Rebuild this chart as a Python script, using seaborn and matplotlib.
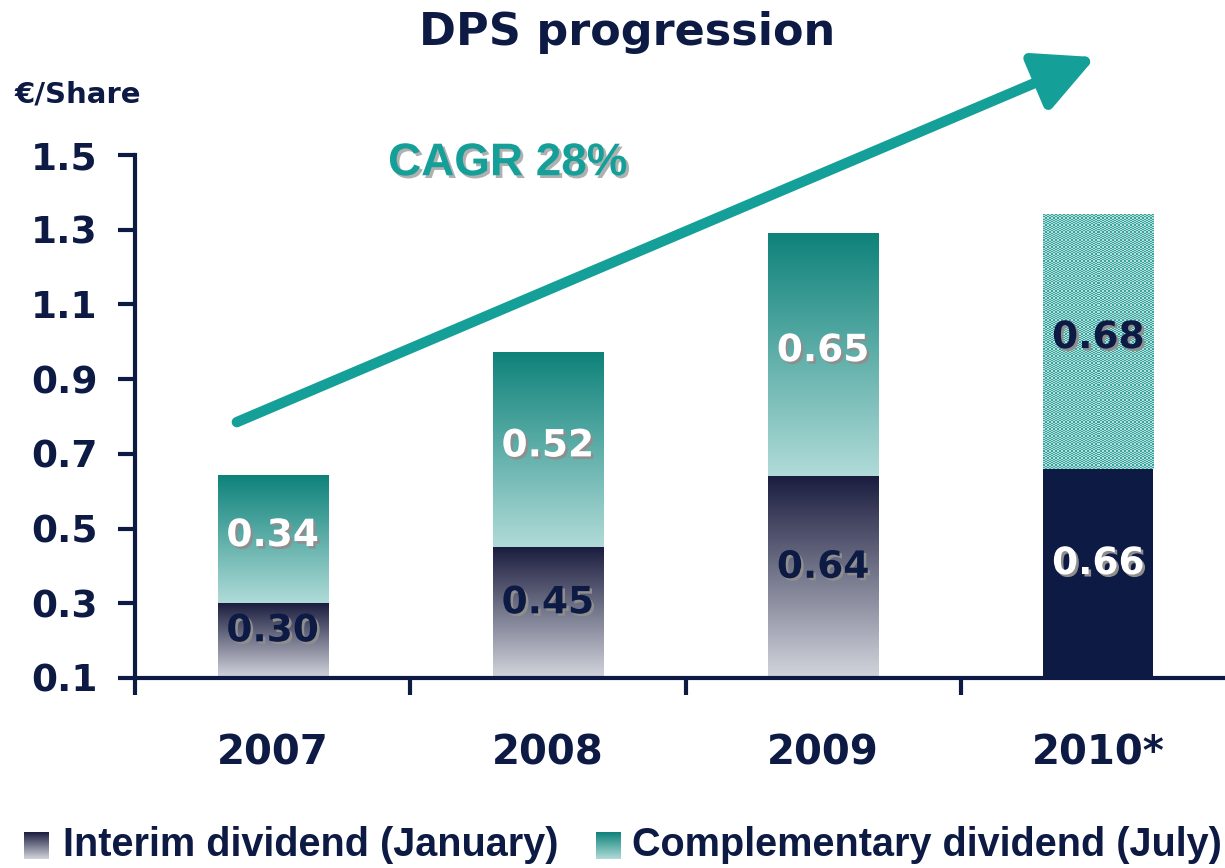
import numpy as np
import pandas as pd
import matplotlib
matplotlib.use('Agg')
import matplotlib.pyplot as plt
import matplotlib.patheffects as pe
from matplotlib import font_manager
from matplotlib.colors import to_rgba
import seaborn as sns

# Data
years = ['2007', '2008', '2009', '2010*']
interim = [0.30, 0.45, 0.64, 0.66]
complementary = [0.34, 0.52, 0.65, 0.68]
yticks = [0.1, 0.3, 0.5, 0.7, 0.9, 1.1, 1.3, 1.5]

NAVY = '#0c1a44'
TEAL = '#14a098'
INT_TOP, INT_BOT = '#1b1d3f', '#d3d5dd'
COMP_TOP, COMP_BOT = '#0e827a', '#b0dbd8'

sns.set_style('white')
plt.rcParams['font.family'] = ['DejaVu Sans']
plt.rcParams['font.weight'] = 'bold'

installed = {f.name for f in font_manager.fontManager.ttflist}
narrow = 'Liberation Sans Narrow' if 'Liberation Sans Narrow' in installed else 'Liberation Sans'


def gradient(top, bottom, n=256):
    t = np.linspace(0, 1, n)[:, None]
    a = np.array(to_rgba(bottom))
    b = np.array(to_rgba(top))
    img = a + (b - a) * t
    return img[:, None, :]


def checker(c1, c2, w, h):
    yy, xx = np.mgrid[0:h, 0:w]
    mask = ((xx + yy) % 2 == 0)[..., None]
    return np.where(mask, np.array(to_rgba(c1)), np.array(to_rgba(c2)))


df = pd.DataFrame({
    'year': years,
    'interim': interim,
    'total': [i + c for i, c in zip(interim, complementary)],
})

fig = plt.figure(figsize=(12.25, 8.68), dpi=100)
ax = fig.add_axes([0.1102, 0.2189, 0.8898, 0.6025])

sns.barplot(data=df, x='year', y='total', color=COMP_TOP, width=0.4, ax=ax)
total_bars = list(ax.patches)
sns.barplot(data=df, x='year', y='interim', color=INT_TOP, width=0.4, ax=ax)
interim_bars = list(ax.patches[len(total_bars):])

# gradient fills over the bar rectangles
for i, (tb, ib) in enumerate(zip(total_bars, interim_bars)):
    x0, w = tb.get_x(), tb.get_width()
    tb.set_facecolor('none')
    tb.set_edgecolor('none')
    ib.set_edgecolor('none')
    if i == len(years) - 1:
        ib.set_facecolor(NAVY)
        img = checker('#38a49d', '#b6e0dc', 55, 220)
        ax.imshow(img, extent=(x0, x0 + w, interim[i], df['total'][i]),
                  aspect='auto', interpolation='nearest', zorder=2)
        continue
    ib.set_facecolor('none')
    ax.imshow(gradient(COMP_TOP, COMP_BOT), origin='lower',
              extent=(x0, x0 + w, interim[i], df['total'][i]),
              aspect='auto', zorder=2)
    ax.imshow(gradient(INT_TOP, INT_BOT), origin='lower',
              extent=(x0, x0 + w, 0.1, interim[i]),
              aspect='auto', zorder=2)

shadow = [pe.SimplePatchShadow(offset=(1.8, -1.8), shadow_rgbFace='#8e8e8e', alpha=1.0), pe.Normal()]
int_colors = [NAVY, NAVY, NAVY, 'white']
comp_colors = ['white', 'white', 'white', NAVY]
for i in range(len(years)):
    ax.text(i, (0.1 + interim[i]) / 2 + 0.025, f'{interim[i]:.2f}', ha='center', va='center',
            fontsize=27, fontweight='bold', color=int_colors[i], path_effects=shadow, zorder=5)
    ax.text(i, interim[i] + complementary[i] / 2 + 0.01, f'{complementary[i]:.2f}', ha='center', va='center',
            fontsize=27, fontweight='bold', color=comp_colors[i], path_effects=shadow, zorder=5)

# axes
ax.set_ylim(0.1, 1.5)
ax.set_xlim(-0.5, 3.46)
ax.set_yticks(yticks)
ax.set_yticklabels([f'{v:.1f}' for v in yticks])
ax.set_xticks(range(len(years)))
ax.set_xticklabels(years)
ax.set_xticks([-0.5, 0.5, 1.5, 2.5], minor=True)
ax.set_xlabel('')
ax.set_ylabel('')
for s in ['top', 'right']:
    ax.spines[s].set_visible(False)
for s in ['left', 'bottom']:
    ax.spines[s].set_color(NAVY)
    ax.spines[s].set_linewidth(3)
ax.tick_params(axis='y', left=True, direction='out', length=12, width=3, color=NAVY, pad=15,
               labelsize=27, labelcolor=NAVY)
ax.tick_params(axis='x', which='major', bottom=True, length=0, pad=40, labelsize=29, labelcolor=NAVY)
ax.tick_params(axis='x', which='minor', bottom=True, direction='out', length=12, width=3, color=NAVY)
for lab in ax.get_xticklabels() + ax.get_yticklabels():
    lab.set_fontweight('bold')

# growth arrow and CAGR
ax.annotate('', xy=(2.99, 1.762), xytext=(-0.13, 0.785), annotation_clip=False,
            arrowprops=dict(arrowstyle='-|>,head_length=1.3,head_width=0.65', lw=7.5,
                            color=TEAL, mutation_scale=28, shrinkA=0, shrinkB=0))
ax.text(0.855, 1.478, 'CAGR 28%', ha='center', va='center', fontsize=33, fontweight='bold',
        color=TEAL, family=['Liberation Sans', 'DejaVu Sans'],
        path_effects=[pe.SimplePatchShadow(offset=(2, -2), shadow_rgbFace='#b0b0b0', alpha=1.0), pe.Normal()])

fig.text(0.512, 0.962, 'DPS progression', ha='center', va='center', fontsize=32,
         fontweight='bold', color=NAVY)
fig.text(0.012, 0.8906, '€/Share', ha='left', va='center', fontsize=21,
         fontweight='bold', color=NAVY)

# legend
for px, top, bot, tx, label in [(24, INT_TOP, INT_BOT, 63, 'Interim dividend (January)'),
                                (596, COMP_TOP, COMP_BOT, 632, 'Complementary dividend (July)')]:
    lax = fig.add_axes([px / 1225, 1 - 859 / 868, 25 / 1225, 27 / 868])
    lax.imshow(gradient(top, bot), origin='lower', aspect='auto', extent=(0, 1, 0, 1))
    lax.axis('off')
    fig.text(tx / 1225, 1 - 845 / 868, label, ha='left', va='center', fontsize=28.5,
             fontweight='bold', color=NAVY, family=[narrow, 'DejaVu Sans'])

fig.savefig('out.png', dpi=100)
